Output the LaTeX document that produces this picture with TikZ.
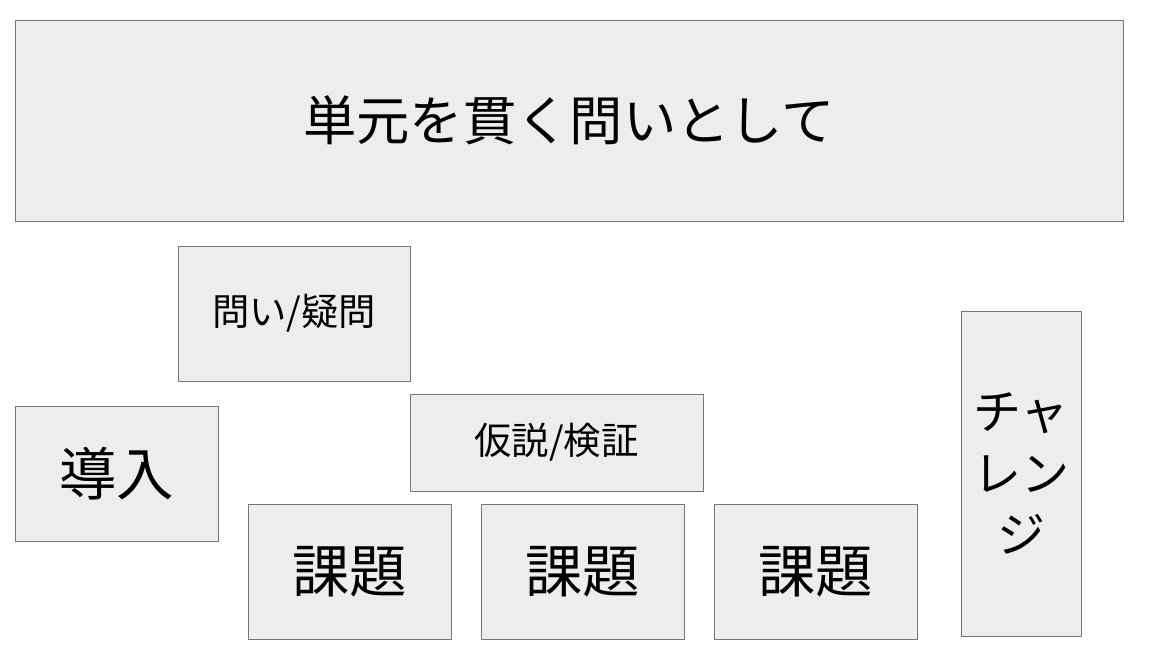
\documentclass[tikz,border=0pt]{standalone}
\usepackage{fontspec}
\setmainfont{Noto Sans CJK JP}
\usepackage{tikz}
\usetikzlibrary{positioning}
\newdimen\px
\px=0.75pt
\definecolor{boxfill}{HTML}{EDEDED}
\definecolor{boxline}{HTML}{777777}

\begin{document}
\begin{tikzpicture}[
    x=\px, y=-\px,
    box/.style={%
      draw=boxline,
      fill=boxfill,
      line width=1\px,
      rectangle,
      inner sep=0pt,
      outer sep=0pt,
    },
    big/.style={font=\fontsize{43pt}{50pt}\selectfont},
    mid/.style={font=\fontsize{28pt}{34pt}\selectfont},
  ]
    \useasboundingbox (0,0) rectangle (1156,651);

    \node [box, minimum width=1108\px, minimum height=201\px,
      font=\fontsize{40pt}{46pt}\selectfont] (unit) at (569,120.5) {単元を貫く問いとして};
    \node [box, mid, minimum width=232\px, minimum height=135\px] (quest) at (294,313.5) {問い/疑問};
    \node [box, big, minimum width=203\px, minimum height=135\px] (intro) at (116.5,473.5) {導入};
    \node [box, mid, minimum width=293\px, minimum height=97\px] (hypo) at (556.5,442.5) {仮説/検証};
    \node [box, big, minimum width=203\px, minimum height=135\px] (taskA) at (349.5,571.5) {課題};
    \node [box, big, minimum width=203\px, minimum height=135\px, right=30\px of taskA] (taskB) {課題};
    \node [box, big, minimum width=203\px, minimum height=135\px, right=30\px of taskB] (taskC) {課題};
    \node [box, minimum width=120\px, minimum height=325\px, align=center,
      font=\fontsize{36pt}{46pt}\selectfont] (chal) at (1021,473.5) {チャ\\レン\\ジ};
\end{tikzpicture}
\end{document}
